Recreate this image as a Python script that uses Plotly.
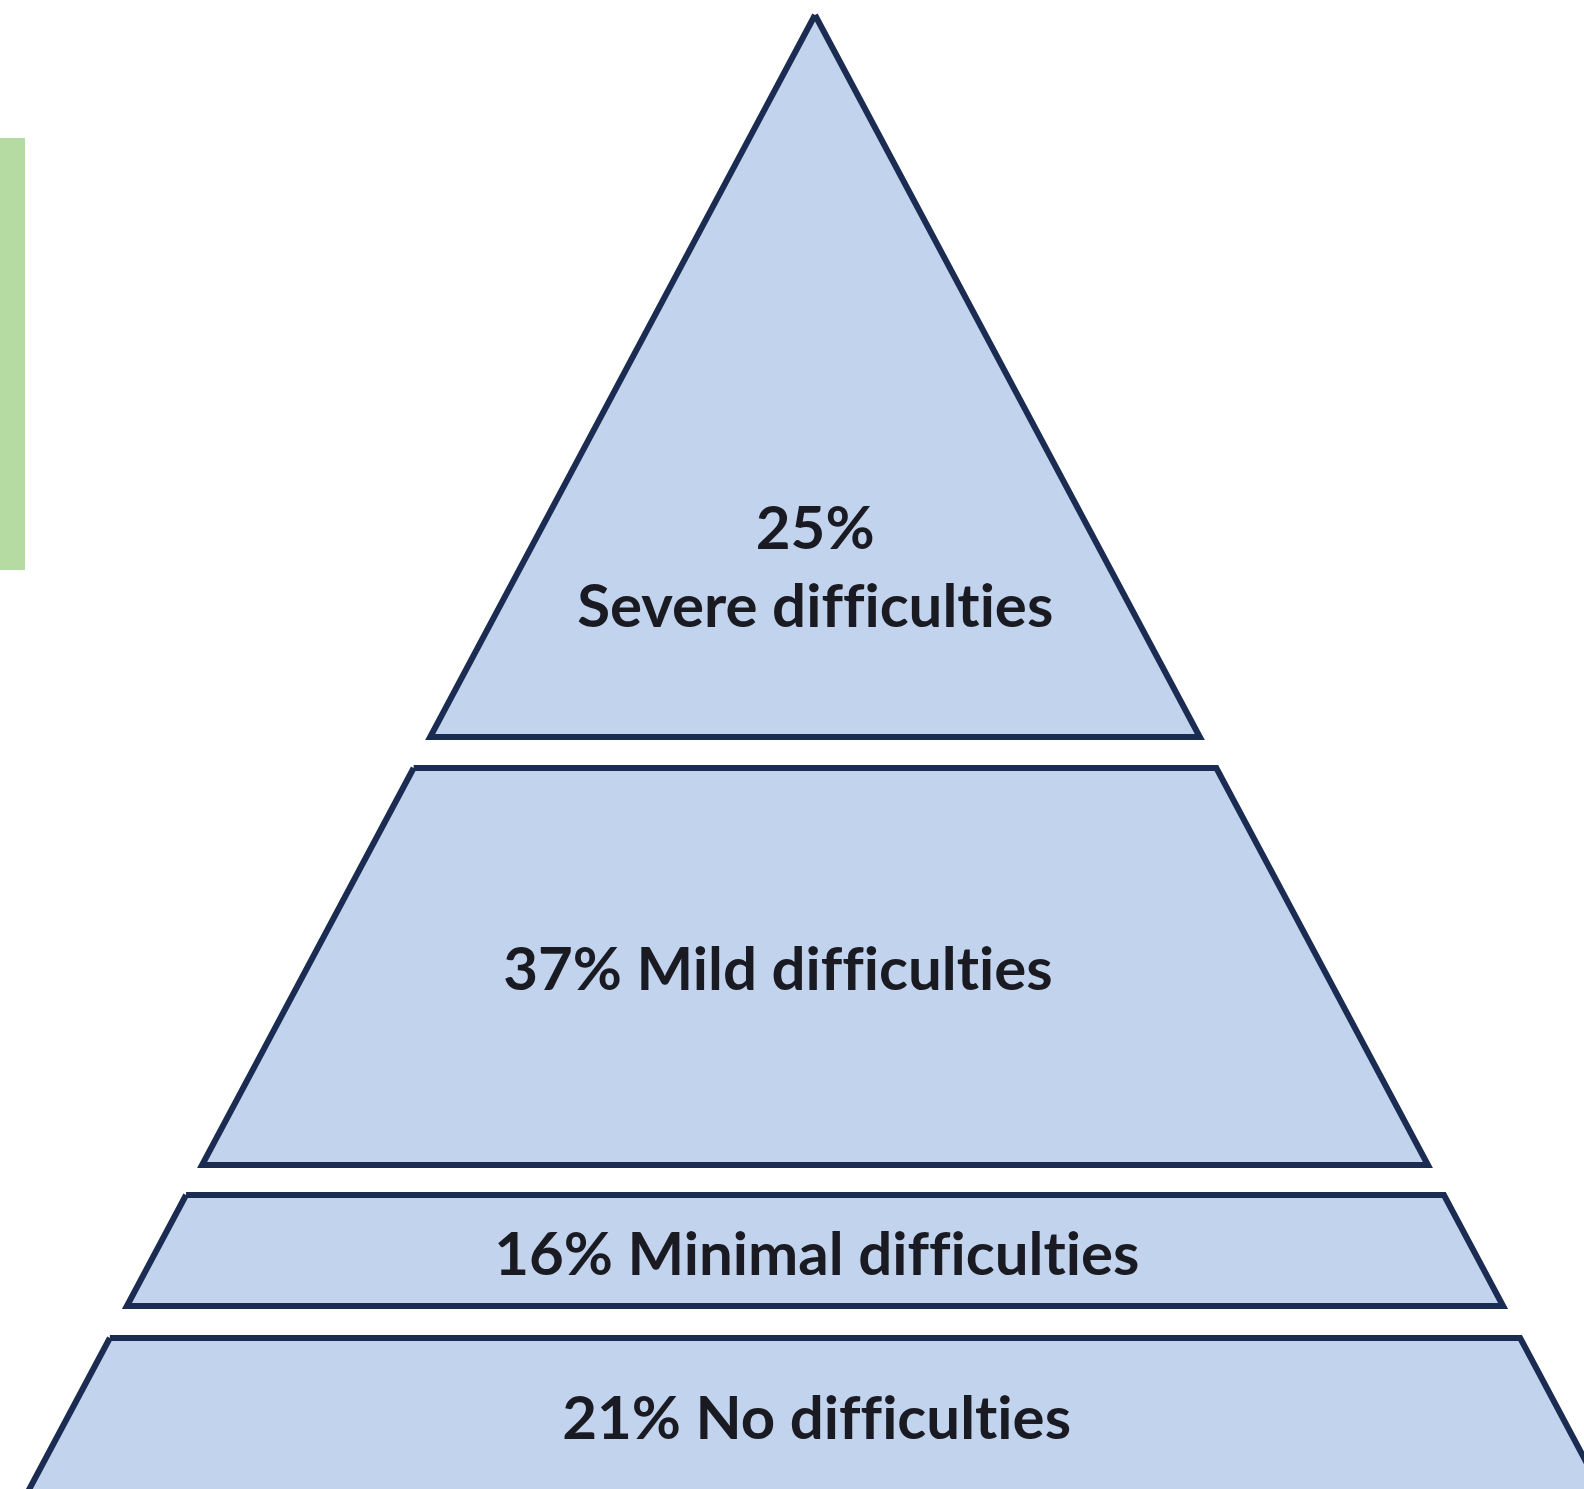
import plotly.graph_objects as go

# ---- data ----
categories = ["Severe difficulties", "Mild difficulties", "Minimal difficulties", "No difficulties"]
percentages = [25, 37, 16, 21]

# ---- layout (diagram geometry, pixel space) ----
W, H = 1584, 1489
apex_x = 815
apex_y = 15
slope = 0.533  # half-width per px of height
tier_top = [15, 768, 1195, 1338]
tier_bottom = [737, 1165, 1306, 1497]
label_sep = ["<br>", " ", " ", " "]
label_x = [815, 778, 817, 816]
label_y = [565, 967, 1252, 1416]

fill_color = "#c2d3ed"
edge_color = "#1b2c52"
text_color = "#1a1a22"

fig = go.Figure()

def half(y):
    return slope * (y - apex_y)

for i, cat in enumerate(categories):
    yt, yb = tier_top[i], tier_bottom[i]
    xs = [apex_x - half(yt), apex_x + half(yt), apex_x + half(yb), apex_x - half(yb), apex_x - half(yt)]
    ys = [yt, yt, yb, yb, yt]
    fig.add_trace(go.Scatter(
        x=xs, y=ys, mode="lines", fill="toself", fillcolor=fill_color,
        line=dict(color=edge_color, width=6), hoverinfo="skip", showlegend=False,
    ))
    fig.add_annotation(
        x=label_x[i], y=label_y[i], xref="x", yref="y",
        text=f"{percentages[i]}%{label_sep[i]}{cat}", showarrow=False,
        font=dict(family="Lato", size=60, color=text_color, weight=700),
        xanchor="center", yanchor="middle", align="center",
    )

# green side bar
fig.add_shape(type="rect", x0=0, x1=25, y0=138, y1=570, xref="x", yref="y",
              fillcolor="#b6dba2", line=dict(width=0), layer="below")

fig.update_xaxes(range=[0, W], visible=False, fixedrange=True)
fig.update_yaxes(range=[H, 0], visible=False, fixedrange=True)
fig.update_layout(
    width=W, height=H, margin=dict(l=0, r=0, t=0, b=0),
    paper_bgcolor="white", plot_bgcolor="white",
)

post = (
    "document.body.style.margin='0';"
    "var s=document.createElement('style');"
    "s.textContent='text{font-variant-ligatures:none !important;font-feature-settings:\"liga\" 0,\"clig\" 0 !important;}';"
    "document.head.appendChild(s);"
)
fig.write_html("out.html", post_script=post, config={"displayModeBar": False})
